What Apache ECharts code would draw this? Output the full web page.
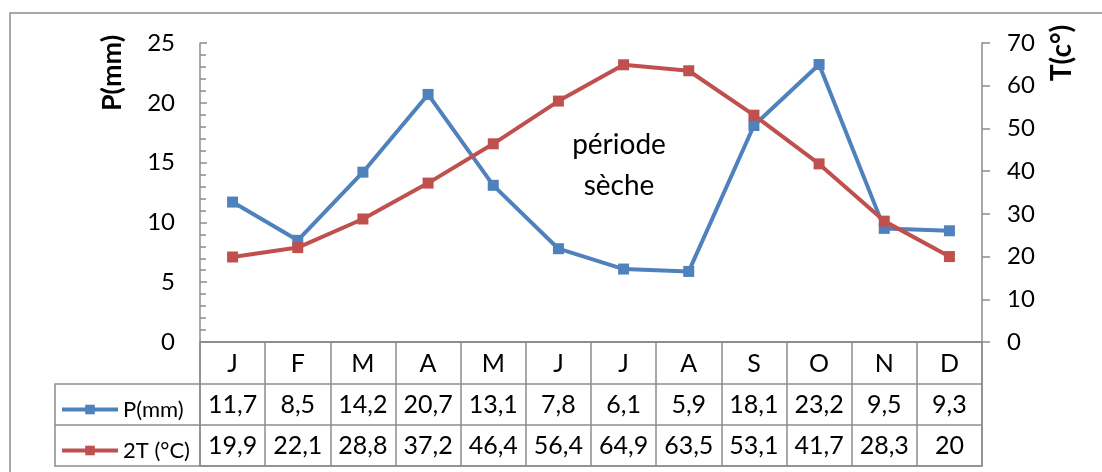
<!DOCTYPE html>
<html>
<head>
<meta charset="utf-8">
<script src="https://cdn.jsdelivr.net/npm/echarts@6/dist/echarts.min.js"></script>
<style>
  html, body { margin: 0; padding: 0; background: #fff; }
  #chart { width: 1102px; height: 472px; }
</style>
</head>
<body>
<div id="chart"></div>
<script>
// data
var months = ['J', 'F', 'M', 'A', 'M', 'J', 'J', 'A', 'S', 'O', 'N', 'D'];
var pluie = [11.7, 8.5, 14.2, 20.7, 13.1, 7.8, 6.1, 5.9, 18.1, 23.2, 9.5, 9.3];
var temp2 = [19.9, 22.1, 28.8, 37.2, 46.4, 56.4, 64.9, 63.5, 53.1, 41.7, 28.3, 20];
var pTicks = [0, 5, 10, 15, 20, 25];
var tTicks = [0, 10, 20, 30, 40, 50, 60, 70];
var lignesTab = ['mois', 'P', 'T'];

var gris = '#8c8c8c';
var bleu = '#4f81bd';
var rouge = '#c0504d';
var police = 'Lato';
var tailleTab = 25;

function virgule(v) { return String(v).replace('.', ','); }

var chart = echarts.init(document.getElementById('chart'));

// axes qui ne servent qu'a ecrire les valeurs du tableau
function tableAxis(vals, off) {
    return {
        type: 'category',
        data: vals.map(virgule),
        position: 'bottom',
        offset: off,
        boundaryGap: true,
        axisLine: { show: false, onZero: false },
        axisTick: { show: false },
        axisLabel: { color: '#000', fontSize: tailleTab, fontFamily: police, margin: 8, lineHeight: 25 }
    };
}

function legende(nom, haut) {
    return {
        orient: 'horizontal',
        left: 55,
        top: haut,
        itemGap: 0,
        itemWidth: 56,
        itemHeight: 12,
        lineStyle: { width: 4 },
        textStyle: { fontSize: 22, fontFamily: police, color: '#000', lineHeight: 25 },
        data: [nom]
    };
}

chart.setOption({
    animation: false,
    textStyle: { fontFamily: police },
    grid: [
        { left: 200, right: 120, top: 43, bottom: 130 },
        // grille du tableau
        { left: 200, right: 120, top: 342, bottom: 6, show: true, borderColor: gris, borderWidth: 1.5 }
    ],
    legend: [legende('P(mm)', 392), legende('2T (°C)', 433)],
    xAxis: [
        {
            type: 'category',
            data: months,
            boundaryGap: true,
            axisLine: { onZero: false, lineStyle: { color: gris, width: 1.5 } },
            axisTick: { show: false },
            axisLabel: { color: '#000', fontSize: tailleTab, fontFamily: police, margin: 9, lineHeight: 25 }
        },
        tableAxis(pluie, 42),
        tableAxis(temp2, 83),
        {
            type: 'category',
            gridIndex: 1,
            data: months,
            boundaryGap: true,
            axisLine: { show: false },
            axisTick: { show: false },
            axisLabel: { show: false },
            splitLine: { show: true, interval: 0, lineStyle: { color: gris, width: 1.5 } }
        }
    ],
    yAxis: [
        {
            type: 'value',
            min: pTicks[0],
            max: pTicks[pTicks.length - 1],
            interval: 5,
            splitLine: { show: false },
            axisLine: { show: true, lineStyle: { color: gris, width: 1.5 } },
            axisTick: { show: true, inside: true, length: 7, lineStyle: { color: gris, width: 1.5 } },
            minorTick: { show: true, splitNumber: 5, length: 6, lineStyle: { color: gris, width: 1.5 } },
            axisLabel: { color: '#000', fontSize: 24, fontFamily: police, margin: 25 }
        },
        {
            type: 'value',
            min: tTicks[0],
            max: tTicks[tTicks.length - 1],
            interval: 10,
            position: 'right',
            splitLine: { show: false },
            axisLine: { show: true, lineStyle: { color: gris, width: 1.5 } },
            axisTick: { show: true, length: 8, lineStyle: { color: gris, width: 1.5 } },
            axisLabel: { color: '#000', fontSize: 24, fontFamily: police, margin: 25 }
        },
        {
            type: 'category',
            gridIndex: 1,
            data: lignesTab,
            inverse: true,
            boundaryGap: true,
            axisLine: { show: false },
            axisTick: { show: false },
            axisLabel: { show: false },
            splitLine: { show: true, interval: 0, lineStyle: { color: gris, width: 1.5 } }
        }
    ],
    series: [
        {
            name: 'P(mm)',
            type: 'line',
            data: pluie,
            yAxisIndex: 0,
            symbol: 'rect',
            symbolSize: 11,
            lineStyle: { color: bleu, width: 4 },
            itemStyle: { color: bleu }
        },
        {
            name: '2T (°C)',
            type: 'line',
            data: temp2,
            yAxisIndex: 1,
            symbol: 'rect',
            symbolSize: 11,
            lineStyle: { color: rouge, width: 4 },
            itemStyle: { color: rouge }
        }
    ],
    graphic: [
        // cadre
        { type: 'polyline', shape: { points: [[10, 480], [10, 13], [1110, 13]] },
          style: { stroke: gris, lineWidth: 1.5, fill: null }, silent: true },
        // colonne de la légende du tableau
        { type: 'polyline', shape: { points: [[200, 384], [55, 384], [55, 466], [200, 466]] },
          style: { stroke: gris, lineWidth: 1.5, fill: null }, silent: true },
        { type: 'line', shape: { x1: 55, y1: 425, x2: 200, y2: 425 },
          style: { stroke: gris, lineWidth: 1.5 }, silent: true },
        // titres des axes
        { type: 'text', x: 112, y: 73, rotation: Math.PI / 2,
          style: { text: 'P(mm)', font: 'bold 27px ' + police, fill: '#000', align: 'center', verticalAlign: 'middle' } },
        { type: 'text', x: 1062, y: 53, rotation: Math.PI / 2,
          style: { text: 'T(c°)', font: 'bold 28px ' + police, fill: '#000', align: 'center', verticalAlign: 'middle' } },
        { type: 'text', x: 619, y: 165,
          style: { text: 'période\nsèche', font: '28px ' + police, lineHeight: 41, fill: '#000', align: 'center', verticalAlign: 'middle' } }
    ]
});
</script>
</body>
</html>
